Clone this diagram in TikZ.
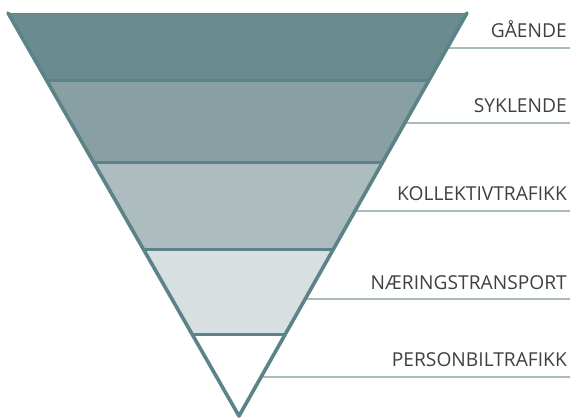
\documentclass[tikz,border=0pt]{standalone}
\usepackage{fontspec}
\setmainfont{Open Sans}
\usetikzlibrary{calc}
\definecolor{edge}{HTML}{5A8487}
\definecolor{bandA}{HTML}{6A8C8F}
\definecolor{bandB}{HTML}{88A0A3}
\definecolor{bandC}{HTML}{ACBCBF}
\definecolor{bandD}{HTML}{D7DFE1}
\definecolor{leader}{HTML}{7B9799}
\definecolor{txt}{HTML}{404040}
\begin{document}
\begin{tikzpicture}[x=1pt,y=-1pt,
  lab/.style={anchor=base east,inner sep=0pt,font=\fontsize{19.2}{22}\selectfont,text=txt},
  sep/.style={draw=edge,line width=3pt},
  side/.style={draw=edge,line width=3.6pt,line cap=round,line join=round},
  leadline/.style={draw=leader,line width=1.4pt}]
\useasboundingbox (0,0) rectangle (571,418);
\coordinate (L) at (8,13);
\coordinate (R) at (467,13);
\coordinate (A) at (239,416);
% band boundaries
\foreach \n/\t in {1/0.1687,2/0.3722,3/0.5856,4/0.7990}{
  \coordinate (l\n) at ($(L)!\t!(A)$);
  \coordinate (r\n) at ($(R)!\t!(A)$);
}
\fill[bandA] (L) -- (R) -- (r1) -- (l1) -- cycle;
\fill[bandB] (l1) -- (r1) -- (r2) -- (l2) -- cycle;
\fill[bandC] (l2) -- (r2) -- (r3) -- (l3) -- cycle;
\fill[bandD] (l3) -- (r3) -- (r4) -- (l4) -- cycle;
\fill[white] (l4) -- (r4) -- (A) -- cycle;
\draw[edge,line width=0.8pt] (L) -- (R);
\foreach \n in {1,2,3,4}{\draw[sep] (l\n) -- (r\n);}
% leader lines
\foreach \n/\t/\y in {a/0.0868/48,b/0.2730/123,c/0.4913/211,d/0.7097/299,e/0.9032/377}{
  \coordinate (s\n) at ($(R)!\t!(A)$);
  \coordinate (e\n) at (570,\y);
}
\foreach \n in {a,b,c,d,e}{\draw[leadline] (s\n) -- (e\n);}
\draw[side] (L) -- (A) -- (R);
% labels
\node[lab] (ta) at (567,37) {GÅENDE};
\node[lab] (tb) at (567,112) {SYKLENDE};
\node[lab] (tc) at (567,200) {KOLLEKTIVTRAFIKK};
\node[lab] (td) at (567,289) {NÆRINGSTRANSPORT};
\node[lab] (te) at (567,366) {PERSONBILTRAFIKK};
\end{tikzpicture}
\end{document}
